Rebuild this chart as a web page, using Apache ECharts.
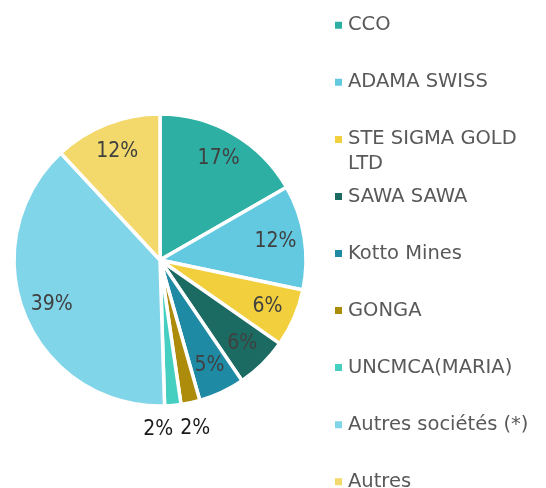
<!DOCTYPE html>
<html>
<head>
<meta charset="utf-8">
<script src="https://cdn.jsdelivr.net/npm/echarts@6/dist/echarts.min.js"></script>
<style>
html,body{margin:0;padding:0;background:#fff;}
#chart{width:546px;height:488px;}
</style>
</head>
<body>
<div id="chart"></div>
<script>
const names = ['CCO', 'ADAMA SWISS', 'STE SIGMA GOLD LTD', 'SAWA SAWA', 'Kotto Mines', 'GONGA', 'UNCMCA(MARIA)', 'Autres sociétés (*)', 'Autres'];
const shares = [16.7, 11.6, 6.4, 5.8, 5.1, 2.1, 1.8, 38.6, 11.9];
const colors = ['#2EAFA4', '#62C9E0', '#F2CF3C', '#1C6B62', '#1F8AA4', '#AE8C0B', '#45CFC0', '#81D5E9', '#F3D86B'];

const labelFont = '"DejaVu Sans Condensed", "DejaVu Sans", sans-serif';
const legendFont = '"DejaVu Sans", sans-serif';

const chart = echarts.init(document.getElementById('chart'), null, {renderer: 'canvas'});

const baseData = names.map((n, i) => ({name: n, value: shares[i], itemStyle: {color: colors[i]}}));
const labelData = names.map((n, i) => {
  const small = shares[i] < 3;
  return {
    name: n,
    value: shares[i],
    label: small ? {position: 'outside', color: '#1a1a1a'} : {position: 'inside', color: '#404040'}
  };
});

// nudges for the two small outside labels (style only)
const smallNudge = {5: [-16, 22], 6: [-35, 20]};

const pitch = 57.05;
const legends = names.map((n, i) => {
  const c = 25.3 + pitch * i;
  const twoLine = n === 'STE SIGMA GOLD LTD';
  return {
    data: [n],
    orient: 'vertical',
    left: 333,
    top: twoLine ? c - 36.75 : c - 12.25,
    padding: 0,
    icon: 'rect',
    itemWidth: 9,
    itemHeight: 9,
    selectedMode: false,
    formatter: name => name === 'STE SIGMA GOLD LTD' ? '\nSTE SIGMA GOLD\nLTD' : name,
    textStyle: {
      fontFamily: legendFont,
      fontSize: 19.5,
      color: '#595959',
      lineHeight: 24.5
    }
  };
});

chart.setOption({
  animation: false,
  legend: legends,
  series: [
    {
      type: 'pie',
      center: [160, 260],
      radius: [0, 146],
      startAngle: 90,
      clockwise: true,
      silent: true,
      label: {show: false},
      labelLine: {show: false},
      itemStyle: {borderColor: '#ffffff', borderWidth: 3.5},
      data: baseData
    },
    {
      type: 'pie',
      center: [160, 260],
      radius: [82, 146],
      startAngle: 90,
      clockwise: true,
      silent: true,
      itemStyle: {color: 'rgba(0,0,0,0)'},
      emphasis: {disabled: true},
      avoidLabelOverlap: false,
      label: {
        show: true,
        fontFamily: labelFont,
        fontSize: 21,
        formatter: p => Math.round(p.value) + '%'
      },
      labelLine: {show: false, length: 4, length2: 0},
      labelLayout: p => {
        const n = smallNudge[p.dataIndex];
        return n ? {dx: n[0], dy: n[1], hideOverlap: false} : {hideOverlap: false};
      },
      data: labelData
    }
  ]
});
</script>
</body>
</html>
